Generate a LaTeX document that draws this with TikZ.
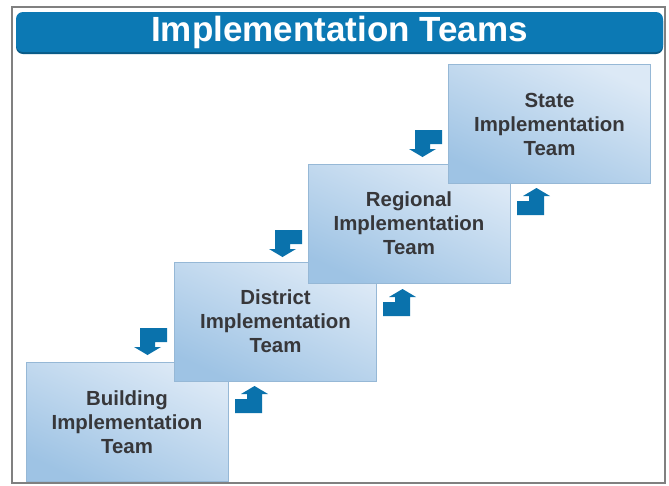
\documentclass[tikz,border=0pt]{standalone}
\usepackage{fontspec}
\setmainfont{Liberation Sans}
\definecolor{banner}{RGB}{12,121,180}
\definecolor{arrowblue}{RGB}{10,114,172}
\definecolor{frame}{RGB}{128,128,128}
\definecolor{boxlight}{RGB}{220,233,246}
\definecolor{boxdark}{RGB}{158,195,228}
\definecolor{boxedge}{RGB}{150,184,214}
\definecolor{boxtext}{RGB}{55,55,58}
\tikzset{
  teambox/.style={draw=boxedge, line width=0.8pt, top color=boxlight, bottom color=boxdark, shading angle=-25,
    minimum width=202pt, minimum height=119pt, inner sep=0pt, align=center,
    text=boxtext, font=\fontsize{20.4}{24}\selectfont\bfseries},
  bentarrow/.pic={\fill[arrowblue] (0,0) -- (27,0) -- (27,-19) -- (33,-19) -- (19.5,-27) -- (6,-19) -- (12,-19) -- (12,-14) -- (0,-14) -- cycle;}
}
\begin{document}
\begin{tikzpicture}[x=1pt,y=-1pt]
\useasboundingbox (0,0) rectangle (669,485);
\fill[white] (0,0) rectangle (669,485);
\draw[frame, line width=1.4pt] (12,7) rectangle (665,483);
\fill[banner!75!black, rounded corners=7pt] (16,14) rectangle (663,54);
\node[fill=banner, rounded corners=7pt, minimum width=647pt, minimum height=40pt, inner sep=0pt,
  text=white, font=\fontsize{35}{40}\selectfont\bfseries] (title) at (339.5,32) {Implementation Teams};
\node[teambox] (building) at (127,422) {Building\\Implementation\\Team};
\node[teambox] (district) at (275.5,321.5) {District\\Implementation\\Team};
\node[teambox] (regional) at (409,223.5) {Regional\\Implementation\\Team};
\node[teambox] (state) at (549.5,124) {State\\Implementation\\Team};
\pic at (235,413) {bentarrow};
\pic at (383,316) {bentarrow};
\pic at (517,215) {bentarrow};
\pic[rotate=180] at (167,328) {bentarrow};
\pic[rotate=180] at (302,230) {bentarrow};
\pic[rotate=180] at (442,130) {bentarrow};
\end{tikzpicture}
\end{document}
